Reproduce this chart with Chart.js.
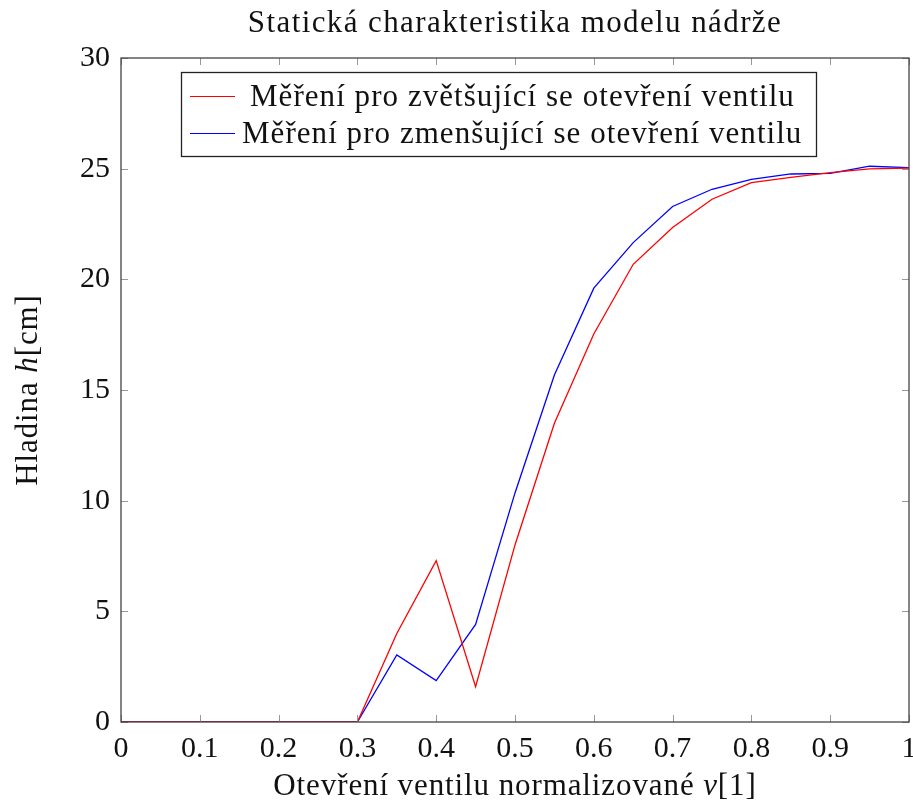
<!DOCTYPE html>
<html>
<head>
<meta charset="utf-8">
<script src="https://cdn.jsdelivr.net/npm/chart.js@4.4.0/dist/chart.umd.min.js"></script>
<style>
  html, body { margin: 0; padding: 0; background: #fff; }
  #wrap { width: 913px; height: 805px; }
</style>
</head>
<body>
<div id="wrap"><canvas id="chart" width="913" height="805"></canvas></div>
<script>
// data
const openings = [0, 0.05, 0.1, 0.15, 0.2, 0.25, 0.3, 0.35, 0.4, 0.45, 0.5,
                  0.55, 0.6, 0.65, 0.7, 0.75, 0.8, 0.85, 0.9, 0.95, 1];
const levelUp   = [0, 0, 0, 0, 0, 0, 0, 4.0, 7.29, 1.6, 8.0,
                   13.5, 17.53, 20.68, 22.34, 23.62, 24.37, 24.61, 24.82, 24.99, 25.02];
const levelDown = [0, 0, 0, 0, 0, 0, 0, 3.03, 1.87, 4.41, 10.35,
                   15.68, 19.6, 21.66, 23.29, 24.07, 24.52, 24.76, 24.79, 25.11, 25.05];
const seriesNames = ['Měření pro zvětšující se otevření ventilu',
                     'Měření pro zmenšující se otevření ventilu'];
const titleText = 'Statická charakteristika modelu nádrže';

const serif = '"Liberation Serif", "Times New Roman", serif';
const toPoints = ys => openings.map((x, i) => ({ x, y: ys[i] }));

// ramecek, tiky dovnitr, legenda, popisky os
const texPlot = {
    id: 'texPlot',
    afterDraw(chart) {
        const { ctx, chartArea: a, scales } = chart;
        ctx.save();

        // tiky dovnitr na vsech stranach
        ctx.strokeStyle = '#999';
        ctx.lineWidth = 1;
        ctx.beginPath();
        scales.x.ticks.forEach(t => {
            const px = Math.round(scales.x.getPixelForValue(t.value)) + 0.5;
            ctx.moveTo(px, a.bottom); ctx.lineTo(px, a.bottom - 7);
            ctx.moveTo(px, a.top);    ctx.lineTo(px, a.top + 7);
        });
        scales.y.ticks.forEach(t => {
            const py = Math.round(scales.y.getPixelForValue(t.value)) + 0.5;
            ctx.moveTo(a.left, py);  ctx.lineTo(a.left + 7, py);
            ctx.moveTo(a.right, py); ctx.lineTo(a.right - 7, py);
        });
        ctx.stroke();

        // ramecek
        ctx.strokeStyle = '#444';
        ctx.lineWidth = 1.3;
        ctx.strokeRect(a.left, a.top, a.right - a.left, a.bottom - a.top);

        ctx.fillStyle = '#111';
        ctx.textBaseline = 'alphabetic';

        // titulek
        ctx.textAlign = 'center';
        ctx.font = '31px ' + serif;
        ctx.letterSpacing = '1.4px';
        ctx.fillText(titleText, (a.left + a.right) / 2, 32);

        // popisky os se sklonenou promennou
        const drawMixed = (parts, cx, cy) => {
            let w = 0;
            parts.forEach(p => { ctx.font = p[1] + '31px ' + serif; w += ctx.measureText(p[0]).width; });
            let x = cx - w / 2;
            ctx.textAlign = 'left';
            parts.forEach(p => {
                ctx.font = p[1] + '31px ' + serif;
                ctx.fillText(p[0], x, cy);
                x += ctx.measureText(p[0]).width;
            });
        };
        ctx.letterSpacing = '0.9px';
        drawMixed([['Otevření ventilu normalizované ', ''], ['v', 'italic '], ['[1]', '']],
                  (a.left + a.right) / 2, 795);
        ctx.save();
        ctx.translate(37, (a.top + a.bottom) / 2);
        ctx.rotate(-Math.PI / 2);
        drawMixed([['Hladina ', ''], ['h', 'italic '], ['[cm]', '']], 0, 0);
        ctx.restore();

        // legenda
        const bx = 181.5, by = 72.5, bw = 635, bh = 84;
        ctx.fillStyle = '#fff';
        ctx.fillRect(bx, by, bw, bh);
        ctx.strokeStyle = '#222';
        ctx.lineWidth = 1.3;
        ctx.strokeRect(bx, by, bw, bh);
        ctx.font = '31px ' + serif;
        ctx.letterSpacing = '1.05px';
        ctx.textAlign = 'left';
        chart.data.datasets.forEach((ds, i) => {
            const base = by + 33 + i * 37;
            const cy = 96.5 + i * 37;
            ctx.strokeStyle = ds.borderColor;
            ctx.lineWidth = 1.2;
            ctx.beginPath();
            ctx.moveTo(190, cy); ctx.lineTo(235, cy);
            ctx.stroke();
            ctx.fillStyle = '#111';
            ctx.fillText(ds.label, i === 0 ? 250 : 242, base);
        });
        ctx.letterSpacing = '0px';
        ctx.restore();
    }
};

new Chart(document.getElementById('chart'), {
    type: 'line',
    data: {
        datasets: [
            { label: seriesNames[0], data: toPoints(levelUp), borderColor: '#ff0000' },
            { label: seriesNames[1], data: toPoints(levelDown), borderColor: '#0000ff' }
        ]
    },
    options: {
        responsive: false,
        animation: false,
        layout: { padding: { top: 58, right: 4, left: 0, bottom: 0 } },
        elements: {
            point: { radius: 0 },
            line: { borderWidth: 1.3, tension: 0 }
        },
        plugins: {
            legend: { display: false },
            title: { display: false },
            tooltip: { enabled: false }
        },
        scales: {
            x: {
                type: 'linear',
                min: 0, max: 1,
                ticks: {
                    stepSize: 0.1,
                    color: '#111',
                    font: { family: serif, size: 30 },
                    padding: 1,
                    maxRotation: 0,
                    callback: v => String(Number(v.toFixed(1)))
                },
                grid: { display: false },
                border: { display: false },
                afterFit(scale) { scale.height = 83; scale.paddingRight = 0; scale.paddingLeft = 0; }
            },
            y: {
                min: 0, max: 30,
                ticks: {
                    stepSize: 5,
                    color: '#111',
                    font: { family: serif, size: 30 },
                    padding: 3
                },
                grid: { display: false },
                border: { display: false },
                afterFit(scale) { scale.width = 121; scale.paddingTop = 0; scale.paddingBottom = 0; }
            }
        }
    },
    plugins: [texPlot]
});
</script>
</body>
</html>
